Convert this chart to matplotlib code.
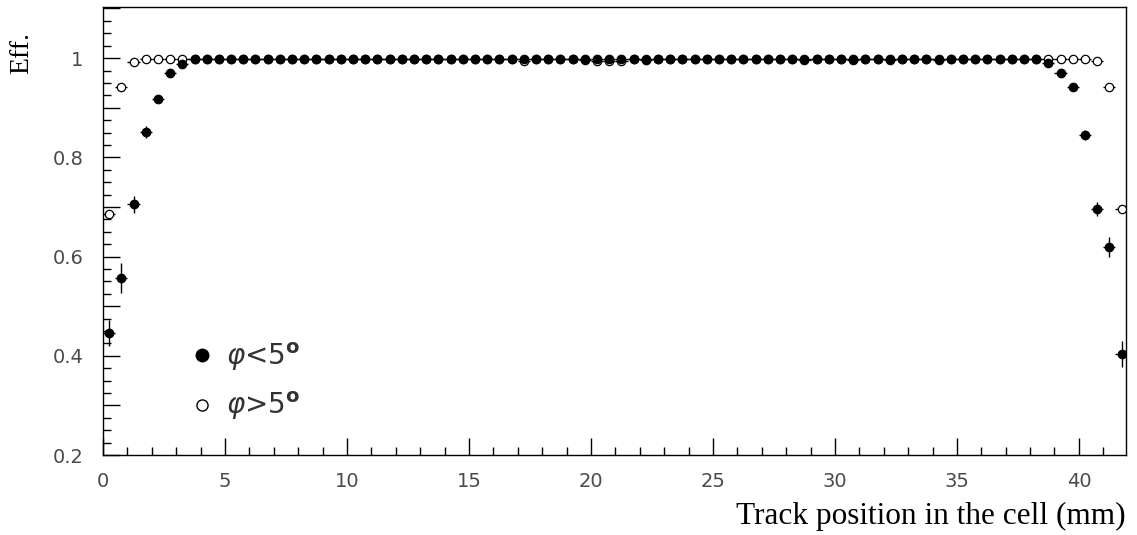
import numpy as np
import matplotlib
matplotlib.use("Agg")
import matplotlib.pyplot as plt
from matplotlib.lines import Line2D
from matplotlib.ticker import MultipleLocator, FuncFormatter

# 84 bins of 0.5 mm across the drift cell
bin_width = 0.5
pos = np.arange(0.25, 42.0, bin_width)

# efficiency for tracks with phi < 5 deg (filled) and phi > 5 deg (open)
eff_small = ([0.446, 0.557, 0.705, 0.851, 0.918, 0.970, 0.988]
             + [0.999] * 29 + [0.998] * 8 + [0.997] + [0.999] * 32
             + [0.990, 0.970, 0.942, 0.845, 0.696, 0.619, 0.404])
err_small = ([0.027, 0.030, 0.017, 0.012, 0.008, 0.005, 0.004]
             + [0.001] * 70
             + [0.004, 0.005, 0.006, 0.010, 0.014, 0.020, 0.026])

eff_large = ([0.686, 0.942, 0.993]
             + [0.998] * 31 + [0.995] + [0.998] * 4 + [0.996] + [0.994] * 3
             + [0.998] * 14 + [0.996] + [0.998] * 3 + [0.996] + [0.998] * 2
             + [0.996] + [0.998] * 3 + [0.996] + [0.998] * 8
             + [0.998, 0.998, 0.998, 0.998, 0.994, 0.942, 0.696])
err_large = [0.006, 0.004] + [0.002] * 80 + [0.004, 0.006]

labels = [r"$\varphi$<5$^{\mathbf{o}}$", r"$\varphi$>5$^{\mathbf{o}}$"]

plt.rcParams['font.family'] = ['DejaVu Sans']
plt.rcParams['mathtext.fontset'] = 'dejavusans'

fig = plt.figure(figsize=(11.37, 5.35), dpi=100)
ax = fig.add_axes([0.0906, 0.1495, 0.8997, 0.8374])

ax.errorbar(pos, eff_large, yerr=err_large, xerr=bin_width / 2, fmt='o',
            ms=6.0, mfc='white', mec='black', mew=0.9, ecolor='black',
            elinewidth=1.0, capsize=0, zorder=2)
ax.errorbar(pos, eff_small, yerr=err_small, xerr=bin_width / 2, fmt='o',
            ms=6.0, mfc='black', mec='black', ecolor='black',
            elinewidth=1.0, capsize=0, zorder=3)

ax.set_xlim(0, 41.93)
ax.set_ylim(0.2, 1.103)

ax.xaxis.set_major_locator(MultipleLocator(5))
ax.xaxis.set_minor_locator(MultipleLocator(1))
ax.yaxis.set_major_locator(MultipleLocator(0.1))
ax.yaxis.set_minor_locator(MultipleLocator(0.025))


def ylab(v, _):
    k = int(round(v * 10))
    if k % 2:
        return ''
    return '1' if k == 10 else f'{v:.1f}'


ax.yaxis.set_major_formatter(FuncFormatter(ylab))

ax.tick_params(which='both', direction='in', top=False, right=False,
               colors='black', labelcolor='#4a4a4a', labelsize=14, width=1.0)
ax.tick_params(which='major', length=12)
ax.tick_params(which='minor', length=6)
ax.tick_params(axis='x', pad=12)
ax.tick_params(axis='y', pad=14)
for sp in ax.spines.values():
    sp.set_linewidth(1.0)

ax.set_xlabel('Track position in the cell (mm)', family='Liberation Serif',
              fontsize=22.5, loc='right', labelpad=8)
fig.text(0.019, 0.94, 'Eff.', family='Liberation Serif', fontsize=20,
         rotation=90, ha='center', va='top')

handles = [Line2D([], [], ls='none', marker='o', ms=9, mfc='black', mec='black'),
           Line2D([], [], ls='none', marker='o', ms=8, mfc='white', mec='black', mew=1.0)]
leg = ax.legend(handles, labels, loc='upper left', bbox_to_anchor=(0.059, 0.312),
                frameon=False, prop={'family': 'DejaVu Sans', 'size': 20},
                handletextpad=0.35, labelspacing=0.62, handlelength=1.0)
for t in leg.get_texts():
    t.set_color('#333333')

fig.savefig('out.png', dpi=100)
